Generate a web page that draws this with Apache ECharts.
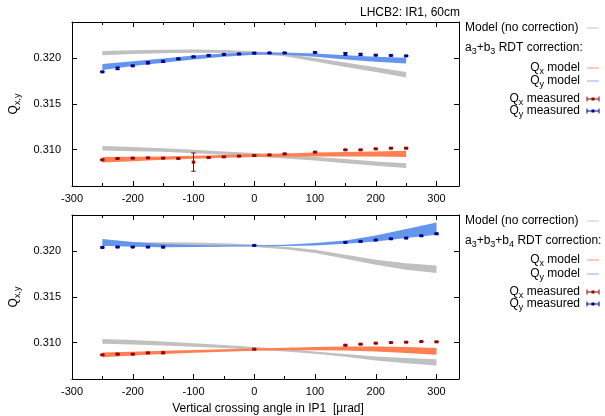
<!DOCTYPE html>
<html><head><meta charset="utf-8">
<script src="https://cdn.jsdelivr.net/npm/echarts@6/dist/echarts.min.js"></script>
<style>html,body{margin:0;padding:0;background:#fff}#c{width:605px;height:416px}</style>
</head><body><div id="c"></div><script>
// ---------- data ----------
const xLabels = [-300, -200, -100, 0, 100, 200, 300];
const xMinorTicks = [-250, -150, -50, 50, 150, 250];
const yTicks = [0.310, 0.315, 0.320];

// Top panel (a3+b3 correction)
const topMeasX = [-250,-225,-200,-175,-150,-125,-100,-75,-50,-25,0,25,50,100,150,175,200,225,250];
const topQy = [0.31853,0.31891,0.31919,0.31952,0.31967,0.31996,0.32018,0.32033,0.32044,0.32050,0.32058,0.32061,0.32061,0.32066,0.32050,0.32044,0.32036,0.32033,0.32028];
const topQyErr = [0.00004,0.00014,0.00005,0.00012,0.00012,0.00005,0.00005,0.00005,0.00004,0.00004,0.00004,0.00004,0.00004,0.00005,0.00014,0.00012,0.00006,0.00005,0.00004];
const topQx = [0.30887,0.30902,0.30906,0.30909,0.30906,0.30902,0.30862,0.30912,0.30920,0.30928,0.30934,0.30942,0.30953,0.30972,0.30997,0.30997,0.31008,0.31015,0.31015];
const topQxErr = [0.00004,0.00004,0.00004,0.00004,0.00006,0.00004,0.00100,0.00004,0.00004,0.00004,0.00004,0.00004,0.00004,0.00004,0.00004,0.00004,0.00004,0.00005,0.00005];

const topBandX = [-250,-200,-150,-100,-50,0,50,100,150,200,250];
const topGreyQyLo = [0.32036,0.32048,0.32058,0.32063,0.32060,0.32048,0.32025,0.31966,0.31906,0.31850,0.31792];
const topGreyQyHi = [0.32083,0.32090,0.32095,0.32097,0.32092,0.32078,0.32055,0.32006,0.31956,0.31904,0.31852];
const topQyLo = [0.31872,0.31916,0.31952,0.31989,0.32018,0.32040,0.32040,0.32018,0.31989,0.31963,0.31945];
const topQyHi = [0.31938,0.31970,0.32000,0.32033,0.32055,0.32069,0.32066,0.32055,0.32036,0.32018,0.32007];
const topGreyQxLo = [0.30989,0.30982,0.30975,0.30960,0.30942,0.30923,0.30902,0.30880,0.30851,0.30822,0.30797];
const topGreyQxHi = [0.31040,0.31028,0.31015,0.30997,0.30978,0.30961,0.30942,0.30917,0.30895,0.30869,0.30851];
const topQxLo = [0.30858,0.30872,0.30887,0.30898,0.30909,0.30917,0.30920,0.30923,0.30923,0.30923,0.30917];
const topQxHi = [0.30917,0.30920,0.30923,0.30931,0.30939,0.30950,0.30958,0.30967,0.30973,0.30978,0.30986];

// Bottom panel (a3+b3+b4 correction)
const botMeasX = [-250,-225,-200,-175,-150,0,150,175,200,225,250,275,300];
const botQy = [0.32044,0.32048,0.32048,0.32048,0.32048,0.32066,0.32099,0.32110,0.32125,0.32139,0.32147,0.32172,0.32194];
const botQyErr = [0.00005,0.00004,0.00004,0.00004,0.00008,0.00004,0.00004,0.00004,0.00004,0.00004,0.00006,0.00005,0.00007];
const botQx = [0.30865,0.30873,0.30873,0.30887,0.30887,0.30927,0.30971,0.30982,0.30993,0.31000,0.31004,0.31011,0.31008];
const botQxErr = [0.00005,0.00007,0.00005,0.00004,0.00009,0.00004,0.00004,0.00004,0.00004,0.00004,0.00004,0.00004,0.00004];

const botBandX = [-250,-200,-150,-100,-50,0,50,100,150,200,250,300];
const botGreyQyLo = [0.32060,0.32065,0.32068,0.32068,0.32062,0.32050,0.32025,0.31982,0.31920,0.31854,0.31800,0.31763];
const botGreyQyHi = [0.32095,0.32098,0.32100,0.32098,0.32090,0.32075,0.32052,0.32019,0.31965,0.31909,0.31870,0.31846];
const botQyLo = [0.32062,0.32052,0.32045,0.32048,0.32052,0.32056,0.32060,0.32066,0.32084,0.32110,0.32147,0.32183];
const botQyHi = [0.32136,0.32105,0.32082,0.32072,0.32068,0.32068,0.32073,0.32092,0.32120,0.32175,0.32246,0.32318];
const botGreyQxLo = [0.30986,0.30978,0.30968,0.30955,0.30940,0.30922,0.30903,0.30876,0.30845,0.30803,0.30772,0.30748];
const botGreyQxHi = [0.31040,0.31027,0.31012,0.30992,0.30972,0.30952,0.30932,0.30901,0.30875,0.30846,0.30830,0.30818];
const botQxLo = [0.30840,0.30858,0.30874,0.30888,0.30900,0.30910,0.30915,0.30915,0.30912,0.30901,0.30885,0.30865];
const botQxHi = [0.30890,0.30900,0.30910,0.30918,0.30926,0.30935,0.30943,0.30952,0.30956,0.30956,0.30950,0.30939];

// ---------- style ----------
const FONT = 'Liberation Sans, Arial, Helvetica, sans-serif';
const C_GREY = '#c0c0c0', C_BLUE = '#6495ed', C_ORANGE = '#ff7f50', C_DRED = '#9b0000', C_DBLUE = '#00008b';
const XMIN = -300, XMAX = 337, YMIN = 0.306, YMAX = 0.324;

const grids = [
  {left: 72, top: 22, width: 387, height: 164},
  {left: 72, top: 215, width: 387, height: 164}
];

const xAxes = [], yAxes = [];
function addAxes(g) {
  const base = {type: 'value', gridIndex: g, min: XMIN, max: XMAX, splitLine: {show: false}};
  const line = {show: true, onZero: false, lineStyle: {color: '#000', width: 1}};
  const noLine = {show: false, onZero: false};
  const xi = xAxes.length;
  xAxes.push(Object.assign({}, base, {position: 'bottom', axisLine: line,
    axisTick: {inside: true, length: 5, customValues: xLabels, lineStyle: {color: '#000'}},
    axisLabel: {customValues: xLabels, fontSize: 11, fontFamily: FONT, color: '#000', margin: 7, formatter: v => String(v)}}));
  xAxes.push(Object.assign({}, base, {position: 'bottom', axisLine: noLine,
    axisTick: {inside: true, length: 3, customValues: xMinorTicks, lineStyle: {color: '#000'}}, axisLabel: {show: false}}));
  xAxes.push(Object.assign({}, base, {position: 'top', axisLine: line,
    axisTick: {inside: true, length: 5, customValues: xLabels, lineStyle: {color: '#000'}}, axisLabel: {show: false}}));
  xAxes.push(Object.assign({}, base, {position: 'top', axisLine: noLine,
    axisTick: {inside: true, length: 3, customValues: xMinorTicks, lineStyle: {color: '#000'}}, axisLabel: {show: false}}));
  const yi = yAxes.length;
  const ybase = {type: 'value', gridIndex: g, min: YMIN, max: YMAX, splitLine: {show: false}};
  yAxes.push(Object.assign({}, ybase, {position: 'left', axisLine: line,
    axisTick: {inside: true, length: 5, customValues: yTicks, lineStyle: {color: '#000'}},
    axisLabel: {customValues: yTicks, fontSize: 11, fontFamily: FONT, color: '#000', margin: 11, formatter: v => v.toFixed(3)}}));
  yAxes.push(Object.assign({}, ybase, {position: 'right', axisLine: line,
    axisTick: {inside: true, length: 5, customValues: yTicks, lineStyle: {color: '#000'}}, axisLabel: {show: false}}));
  return [xi, yi];
}
const [tx, ty] = addAxes(0);
const [bx, by] = addAxes(1);

function band(xi, yi, xs, lo, hi, color) {
  return {
    type: 'custom', xAxisIndex: xi, yAxisIndex: yi, silent: true, z: 2,
    data: xs.map((x, i) => [x, lo[i], hi[i]]),
    encode: {x: 0, y: [1, 2]},
    renderItem: function (params, api) {
      if (params.dataIndex !== 0) return null;
      const pts = [];
      for (let i = 0; i < xs.length; i++) pts.push(api.coord([xs[i], hi[i]]));
      for (let i = xs.length - 1; i >= 0; i--) pts.push(api.coord([xs[i], lo[i]]));
      return {type: 'polygon', shape: {points: pts}, style: {fill: color}};
    }
  };
}
function meas(xi, yi, xs, ys, es, color) {
  return {
    type: 'custom', xAxisIndex: xi, yAxisIndex: yi, silent: true, z: 5,
    data: xs.map((x, i) => [x, ys[i], es[i]]),
    encode: {x: 0, y: 1},
    renderItem: function (params, api) {
      const x = api.value(0), y = api.value(1), e = api.value(2);
      const p = api.coord([x, y]), a = api.coord([x, y + e]), b = api.coord([x, y - e]);
      const w = 2.2, st = {stroke: color, lineWidth: 1};
      return {type: 'group', children: [
        {type: 'line', shape: {x1: p[0], y1: a[1], x2: p[0], y2: b[1]}, style: st},
        {type: 'line', shape: {x1: p[0] - w, y1: a[1], x2: p[0] + w, y2: a[1]}, style: st},
        {type: 'line', shape: {x1: p[0] - w, y1: b[1], x2: p[0] + w, y2: b[1]}, style: st},
        {type: 'rect', shape: {x: p[0] - 1.8, y: p[1] - 1.5, width: 3.6, height: 3}, style: {fill: color}}
      ]};
    }
  };
}

const series = [
  band(tx, ty, topBandX, topGreyQyLo, topGreyQyHi, C_GREY),
  band(tx, ty, topBandX, topGreyQxLo, topGreyQxHi, C_GREY),
  band(tx, ty, topBandX, topQyLo, topQyHi, C_BLUE),
  band(tx, ty, topBandX, topQxLo, topQxHi, C_ORANGE),
  meas(tx, ty, topMeasX, topQy, topQyErr, C_DBLUE),
  meas(tx, ty, topMeasX, topQx, topQxErr, C_DRED),
  band(bx, by, botBandX, botGreyQyLo, botGreyQyHi, C_GREY),
  band(bx, by, botBandX, botGreyQxLo, botGreyQxHi, C_GREY),
  band(bx, by, botBandX, botQyLo, botQyHi, C_BLUE),
  band(bx, by, botBandX, botQxLo, botQxHi, C_ORANGE),
  meas(bx, by, botMeasX, botQy, botQyErr, C_DBLUE),
  meas(bx, by, botMeasX, botQx, botQxErr, C_DRED)
];

// ---------- texts / legends ----------
const RICH = {
  n: {fontSize: 12, fontFamily: FONT, color: '#000'},
  s: {fontSize: 9, fontFamily: FONT, color: '#000', padding: [7, 0, 0, 0]}
};
function txt(x, y, text, align, extra) {
  return Object.assign({type: 'text', x: x, y: y, silent: true,
    style: {text: text, rich: RICH, textAlign: align, textVerticalAlign: 'middle', fontSize: 12, fontFamily: FONT, fill: '#000'}}, extra || {});
}
function sampleLine(y, color) {
  return {type: 'line', silent: true, shape: {x1: 587, y1: y, x2: 599, y2: y}, style: {stroke: color, lineWidth: 1.2}};
}
function sampleErr(y, color) {
  return {type: 'group', silent: true, children: [
    {type: 'line', shape: {x1: 587, y1: y, x2: 599, y2: y}, style: {stroke: color, lineWidth: 1}},
    {type: 'line', shape: {x1: 587, y1: y - 2.5, x2: 587, y2: y + 2.5}, style: {stroke: color, lineWidth: 1}},
    {type: 'line', shape: {x1: 599, y1: y - 2.5, x2: 599, y2: y + 2.5}, style: {stroke: color, lineWidth: 1}},
    {type: 'rect', shape: {x: 591.5, y: y - 1.5, width: 3, height: 3}, style: {fill: color}}
  ]};
}
function legend(ys, corrText) {
  return [
    txt(465, ys[0], '{n|Model (no correction)}', 'left'), sampleLine(ys[0], '#cfcfcf'),
    txt(465, ys[1], corrText, 'left'),
    txt(580, ys[2], '{n|Q}{s|x}{n| model}', 'right'), sampleLine(ys[2], '#ffa685'),
    txt(580, ys[3], '{n|Q}{s|y}{n| model}', 'right'), sampleLine(ys[3], '#9dbcf4'),
    txt(580, ys[4], '{n|Q}{s|x}{n| measured}', 'right'), sampleErr(ys[4], C_DRED),
    txt(580, ys[5], '{n|Q}{s|y}{n| measured}', 'right'), sampleErr(ys[5], C_DBLUE)
  ];
}
const graphics = [].concat(
  [txt(460, 13, '{n|LHCB2: IR1, 60cm}', 'right')],
  legend([28, 48, 68, 81, 99, 111], '{n|a}{s|3}{n|+b}{s|3}{n| RDT correction:}'),
  legend([221, 241, 260, 274, 292, 304], '{n|a}{s|3}{n|+b}{s|3}{n|+b}{s|4}{n| RDT correction:}'),
  [txt(14, 104, '{n|Q}{s|x,y}', 'center', {rotation: Math.PI / 2}),
   txt(14, 297, '{n|Q}{s|x,y}', 'center', {rotation: Math.PI / 2}),
   txt(268, 409, '{n|Vertical crossing angle in IP1  [µrad]}', 'center')]
);

const chart = echarts.init(document.getElementById('c'), null, {renderer: 'canvas'});
chart.setOption({
  animation: false,
  backgroundColor: '#fff',
  grid: grids,
  xAxis: xAxes,
  yAxis: yAxes,
  series: series,
  graphic: {elements: graphics}
});
</script></body></html>
